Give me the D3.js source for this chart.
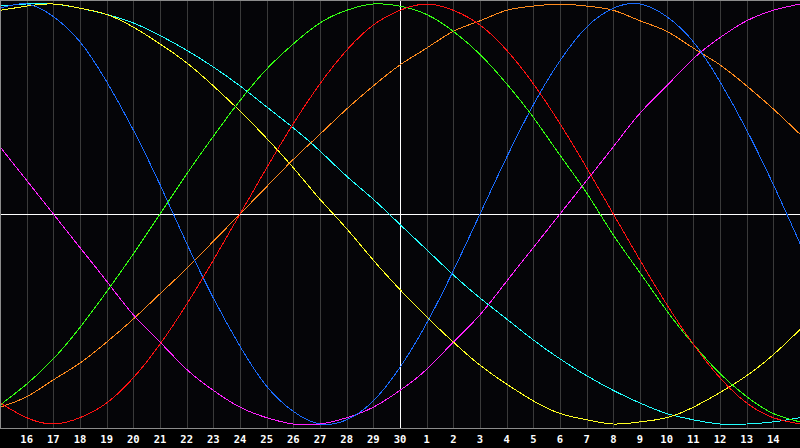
<!DOCTYPE html>
<html>
<head>
<meta charset="utf-8">
<script src="https://cdn.jsdelivr.net/npm/d3@7"></script>
<style>
  html, body { margin: 0; padding: 0; background: #000; }
  svg { display: block; }
</style>
</head>
<body>
<div id="chart"></div>
<script>
var width = 800;
var height = 448;

// day labels on the grid lines (day 15 sits on both edges)
var dayLabels = ["16","17","18","19","20","21","22","23","24","25","26","27","28","29","30",
                 "1","2","3","4","5","6","7","8","9","10","11","12","13","14"];

// value of each cycle, in percent, from the left edge (t=0) to the right edge (t=30)
var red     = [-90,-97,-100,-97,-90,-78,-62,-43,-22,0,22,43,62,78,90,97,100,97,90,78,62,43,22,0,-22,-43,-62,-78,-90,-97,-100];
var green   = [-91,-81,-69,-54,-37,-19,0,19,37,54,69,81,91,97,100,99,95,87,76,62,46,28,10,-10,-28,-46,-62,-76,-87,-95,-99];
var blue    = [98,100,94,82,63,40,14,-14,-40,-63,-82,-94,-100,-98,-89,-73,-52,-27,0,27,52,73,89,98,100,94,82,63,40,14,-14];
var yellow  = [97,99,100,98,95,89,81,72,61,49,36,22,7,-7,-22,-36,-49,-61,-72,-81,-89,-95,-98,-100,-99,-97,-92,-85,-77,-67,-55];
var cyan    = [99,100,100,98,95,91,85,78,70,61,51,41,30,18,7,-5,-17,-29,-40,-50,-60,-69,-77,-84,-90,-95,-98,-100,-100,-99,-97];
var magenta = [32,16,0,-16,-32,-48,-61,-74,-84,-92,-97,-100,-100,-97,-92,-84,-74,-61,-48,-32,-16,0,16,32,48,61,74,84,92,97,100];
var orange  = [-92,-87,-79,-71,-61,-50,-38,-26,-13,0,13,26,38,50,61,71,79,87,92,97,99,100,99,97,92,87,79,71,61,50,38];

var seriesList = [orange, magenta, cyan, yellow, blue, green, red];
var seriesColors = ["#ff8a1c", "#ff22ff", "#22ffff", "#ffff22", "#1a6cff", "#33ff11", "#ff1111"];

var plotBottom = 428;

var x = d3.scaleLinear().domain([0, 30]).range([0, width]);
var y = d3.scaleLinear().domain([-100, 100]).range([424, 4]);

var svg = d3.select("#chart")
  .append("svg")
  .attr("width", width)
  .attr("height", height);

svg.append("rect")
  .attr("width", width)
  .attr("height", plotBottom)
  .attr("fill", "#050508");

// vertical day grid
svg.selectAll(".grid")
  .data(dayLabels)
  .enter()
  .append("line")
  .attr("class", "grid")
  .attr("x1", function (d, i) { return Math.round(x(i + 1)) + 0.5; })
  .attr("x2", function (d, i) { return Math.round(x(i + 1)) + 0.5; })
  .attr("y1", 0)
  .attr("y2", plotBottom)
  .attr("stroke", "#3a3a3a")
  .attr("stroke-width", 1)
  .attr("shape-rendering", "crispEdges");

// today marker and zero line
svg.append("line")
  .attr("x1", Math.round(x(15)) + 0.5)
  .attr("x2", Math.round(x(15)) + 0.5)
  .attr("y1", 0)
  .attr("y2", plotBottom)
  .attr("stroke", "#ffffff")
  .attr("shape-rendering", "crispEdges");

svg.append("line")
  .attr("x1", 0)
  .attr("x2", width)
  .attr("y1", Math.round(y(0)) + 0.5)
  .attr("y2", Math.round(y(0)) + 0.5)
  .attr("stroke", "#ffffff")
  .attr("stroke-width", 1)
  .attr("shape-rendering", "crispEdges");

var line = d3.line()
  .x(function (d, i) { return x(i); })
  .y(function (d) { return y(d); })
  .curve(d3.curveNatural);

seriesList.forEach(function (s, k) {
  svg.append("path")
    .datum(s)
    .attr("fill", "none")
    .attr("stroke", seriesColors[k])
    .attr("stroke-width", 1)
    .attr("shape-rendering", "crispEdges")
    .attr("d", line);
});

// frame
svg.append("line")
  .attr("x1", 0.5).attr("x2", 0.5).attr("y1", 0).attr("y2", plotBottom)
  .attr("stroke", "#8c8c8c").attr("shape-rendering", "crispEdges");
svg.append("line")
  .attr("x1", 0).attr("x2", width).attr("y1", 0.5).attr("y2", 0.5)
  .attr("stroke", "#8c8c8c").attr("shape-rendering", "crispEdges");
svg.append("line")
  .attr("x1", 0).attr("x2", width).attr("y1", plotBottom + 0.5).attr("y2", plotBottom + 0.5)
  .attr("stroke", "#8c8c8c").attr("stroke-width", 1.5).attr("shape-rendering", "crispEdges");

// day labels
svg.selectAll(".day")
  .data(dayLabels)
  .enter()
  .append("text")
  .attr("class", "day")
  .attr("x", function (d, i) { return x(i + 1); })
  .attr("y", 443)
  .attr("text-anchor", "middle")
  .attr("fill", "#ffffff")
  .attr("font-family", "'DejaVu Sans Mono', monospace")
  .attr("font-weight", "bold")
  .attr("font-size", "10.5px")
  .text(function (d) { return d; });
</script>
</body>
</html>
